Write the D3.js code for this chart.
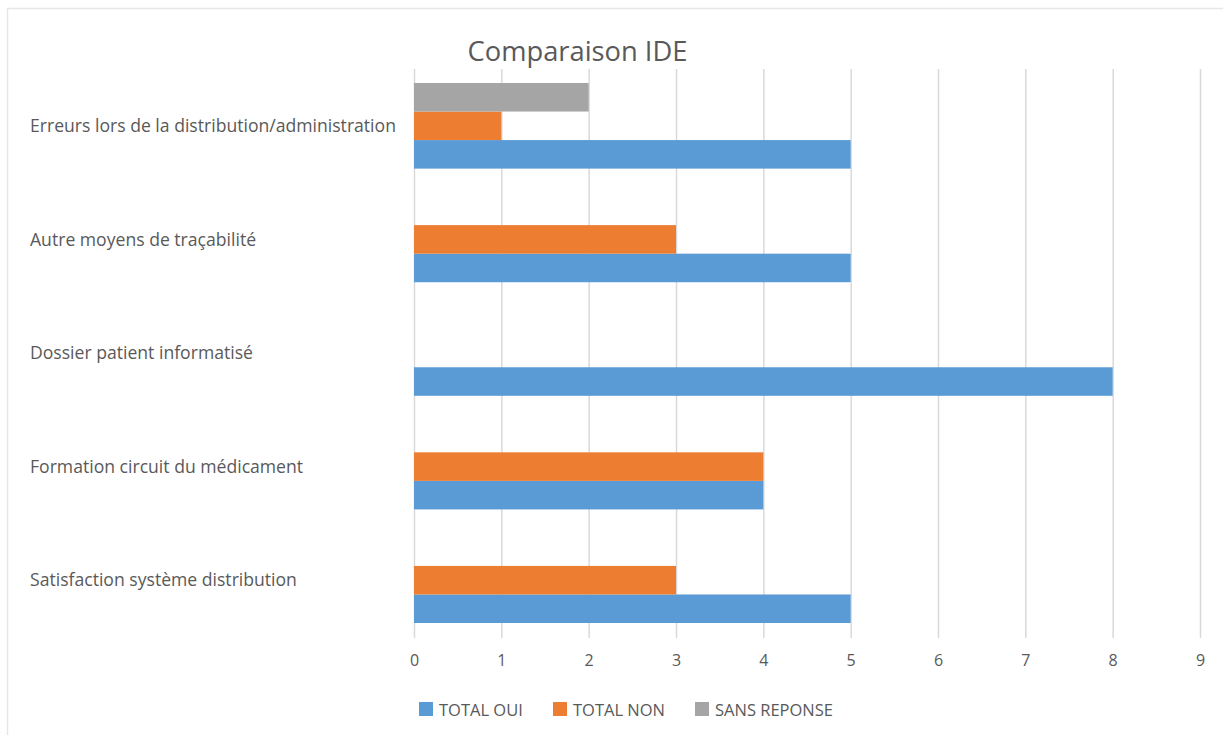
<!DOCTYPE html>
<html>
<head>
<meta charset="utf-8">
<script src="https://cdn.jsdelivr.net/npm/d3@7"></script>
<style>
  html, body { margin: 0; padding: 0; background: #fff; }
  svg { display: block; }
  text { font-family: "Open Sans", "Noto Sans", sans-serif; fill: #595959; }
</style>
</head>
<body>
<svg id="chart" width="1223" height="735"></svg>
<script>
// Survey answers per topic
const categories = [
  "Erreurs lors de la distribution/administration",
  "Autre moyens de traçabilité",
  "Dossier patient informatisé",
  "Formation circuit du médicament",
  "Satisfaction système distribution"
];
const totalOui = [5, 5, 8, 4, 5];
const totalNon = [1, 3, 0, 4, 3];
const sansReponse = [2, 0, 0, 0, 0];
const seriesNames = ["TOTAL OUI", "TOTAL NON", "SANS REPONSE"];
const seriesColors = ["#5B9BD5", "#ED7D31", "#A5A5A5"];
const xTicks = [0, 1, 2, 3, 4, 5, 6, 7, 8, 9];

const seriesValues = [totalOui, totalNon, sansReponse];

const svg = d3.select("#chart");
const W = 1223, H = 735;
const plot = { left: 414, right: 1200, top: 69, bottom: 637 };

// frame edges
svg.append("line").attr("x1", 7.5).attr("x2", W).attr("y1", 8.5).attr("y2", 8.5)
  .attr("stroke", "#e6e6e6").attr("stroke-width", 1.5);
svg.append("line").attr("x1", 7.5).attr("x2", 7.5).attr("y1", 8.5).attr("y2", H)
  .attr("stroke", "#e6e6e6").attr("stroke-width", 1.5);

const x = d3.scaleLinear().domain([0, 9]).range([plot.left, plot.right]);
const y = d3.scaleBand().domain(categories).range([plot.top, plot.bottom]).paddingInner(0).paddingOuter(0);
// within a group: SANS REPONSE on top, TOTAL OUI at the bottom
const inner = d3.scaleBand().domain([2, 1, 0]).range([0, y.bandwidth()]).paddingInner(0).paddingOuter(0.49);

// vertical gridlines
const grid = svg.append("g").attr("transform", `translate(0,${plot.top})`)
  .call(d3.axisBottom(x).tickValues(xTicks).tickSize(plot.bottom - plot.top + 1).tickFormat(""));
grid.select(".domain").remove();
grid.selectAll("line").attr("stroke", "#d9d9d9").attr("stroke-width", 1.5);

// bars
const groups = svg.append("g").selectAll("g").data(categories).join("g")
  .attr("transform", d => `translate(0,${y(d)})`);
groups.selectAll("rect")
  .data((d, i) => seriesValues.map((vals, s) => ({ s, v: vals[i] })).filter(o => o.v > 0))
  .join("rect")
  .attr("x", x(0))
  .attr("y", d => inner(d.s))
  .attr("width", d => x(d.v) - x(0))
  .attr("height", inner.bandwidth())
  .attr("fill", d => seriesColors[d.s]);

// x tick labels
const xAxis = svg.append("g").attr("transform", `translate(0,${plot.bottom})`)
  .call(d3.axisBottom(x).tickValues(xTicks).tickSize(0).tickPadding(18));
xAxis.select(".domain").remove();
xAxis.selectAll("text").attr("font-size", 16).attr("font-family", null).style("fill", "#595959");

// category labels, left aligned
svg.append("g").selectAll("text").data(categories).join("text")
  .attr("x", 30)
  .attr("y", d => y(d) + y.bandwidth() / 2)
  .attr("dy", "0.35em")
  .attr("font-size", 17.6)
  .text(d => d);

// title
svg.append("text").attr("x", 577.5).attr("y", 61)
  .attr("text-anchor", "middle").attr("font-size", 27.3).text("Comparaison IDE");

// legend
const legendX = [419, 553, 695];
const legend = svg.append("g").selectAll("g").data(seriesNames).join("g")
  .attr("transform", (d, i) => `translate(${legendX[i]},702)`);
legend.append("rect").attr("width", 14).attr("height", 14).attr("fill", (d, i) => seriesColors[i]);
legend.append("text").attr("x", 20).attr("y", 8).attr("dy", "0.35em").attr("font-size", 16.5).text(d => d);
</script>
</body>
</html>
